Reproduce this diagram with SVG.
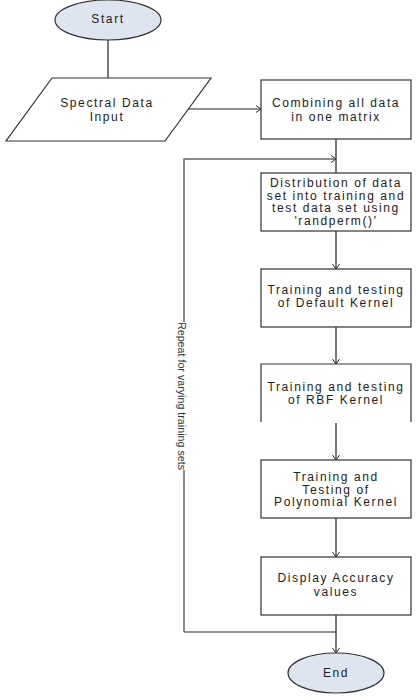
<svg xmlns="http://www.w3.org/2000/svg" width="416" height="700" viewBox="0 0 416 700">
<style>
.t{font-family:"Liberation Sans",Arial,sans-serif;font-size:12px;letter-spacing:1.6px;fill:#222;text-anchor:middle}
.box{fill:#fff;stroke:#333;stroke-width:1.2}
.term{fill:#dfe5f0;stroke:#333;stroke-width:1.2}
.c{fill:none;stroke:#222;stroke-width:1.2}
.g{fill:none;stroke:#666;stroke-width:1.5}
.lbl{font-family:"Liberation Sans",Arial,sans-serif;font-size:11px;fill:#333;text-anchor:middle}
</style>
<defs>
<marker id="arr" markerWidth="10" markerHeight="10" refX="8" refY="5" orient="auto" markerUnits="userSpaceOnUse">
<polyline points="3,1.5 8,5 3,8.5" fill="none" stroke="#333" stroke-width="1"/>
</marker>
</defs>
<rect width="416" height="700" fill="#fff"/>
<g id="connectors">
<line class="c" x1="108" y1="40" x2="108" y2="78"/>
<line class="c" x1="188" y1="109" x2="261" y2="109" marker-end="url(#arr)"/>
<line class="c" x1="336" y1="139" x2="336" y2="173"/>
<line class="c" x1="336" y1="231" x2="336" y2="269" marker-end="url(#arr)"/>
<line class="c" x1="336" y1="327" x2="336" y2="364" marker-end="url(#arr)"/>
<line class="c" x1="336" y1="423" x2="336" y2="460" marker-end="url(#arr)"/>
<line class="c" x1="336" y1="518" x2="336" y2="557" marker-end="url(#arr)"/>
<line class="c" x1="336" y1="615" x2="336" y2="653" marker-end="url(#arr)"/>
<line class="c" x1="336" y1="632" x2="184" y2="632"/>
<polyline class="g" points="184,632 184,470"/>
<polyline class="g" points="184,322 184,159 336,159" marker-end="url(#arr)"/>
<text class="lbl" transform="translate(182,396) rotate(90)" y="4" textLength="148" lengthAdjust="spacingAndGlyphs">Repeat for varying training sets</text>
</g>
<g id="start">
<ellipse class="term" cx="108" cy="20" rx="53" ry="20"/>
<text class="t" x="108" y="23">Start</text>
</g>
<g id="input">
<polygon class="box" points="52,78 211,78 165,141 6,141"/>
<text class="t" x="107" y="107">Spectral Data</text>
<text class="t" x="107" y="121">Input</text>
</g>
<g id="combine">
<rect class="box" x="261" y="80" width="150" height="59"/>
<text class="t" x="336" y="107">Combining all data</text>
<text class="t" x="336" y="121">in one matrix</text>
</g>
<g id="distribute">
<rect class="box" x="261" y="173" width="150" height="58"/>
<text class="t" x="336" y="187">Distribution of data</text>
<text class="t" x="336" y="199.5">set into training and</text>
<text class="t" x="336" y="212">test data set using</text>
<text class="t" x="336" y="224.5">'randperm()'</text>
</g>
<g id="default">
<rect class="box" x="261" y="269" width="150" height="58"/>
<text class="t" x="336" y="294">Training and testing</text>
<text class="t" x="336" y="307">of Default Kernel</text>
</g>
<g id="rbf">
<path class="box" d="M261,422 V364 H411 V422"/>
<text class="t" x="336" y="391">Training and testing</text>
<text class="t" x="336" y="404">of RBF Kernel</text>
</g>
<g id="poly">
<rect class="box" x="261" y="460" width="150" height="58"/>
<text class="t" x="336" y="481">Training and</text>
<text class="t" x="336" y="493.5">Testing of</text>
<text class="t" x="336" y="506">Polynomial Kernel</text>
</g>
<g id="display">
<rect class="box" x="261" y="557" width="150" height="58"/>
<text class="t" x="336" y="581.5">Display Accuracy</text>
<text class="t" x="336" y="595.5">values</text>
</g>
<g id="end">
<ellipse class="term" cx="336" cy="673" rx="48" ry="20"/>
<text class="t" x="336" y="677">End</text>
</g>
</svg>
